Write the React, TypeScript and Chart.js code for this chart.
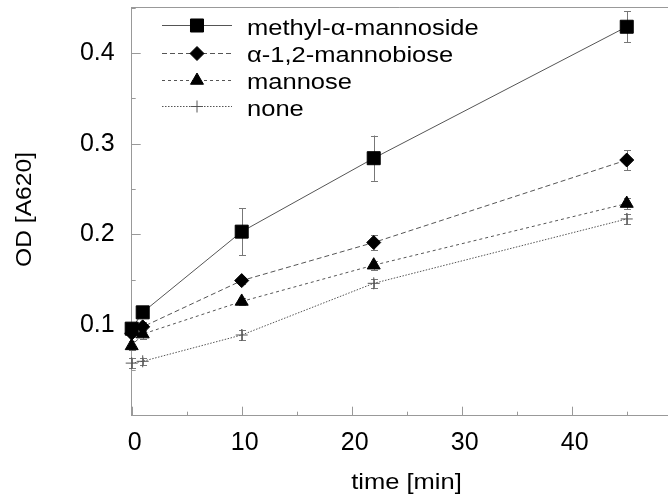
import React, { useEffect, useRef } from 'react';
import { Chart, registerables } from 'chart.js';
import { drawPoint } from 'chart.js/helpers';

Chart.register(...registerables);

const times = [0, 1, 10, 22, 45];
const seriesNames = ['methyl-α-mannoside', 'α-1,2-mannobiose', 'mannose', 'none'];
const methylMannoside = [0.096, 0.114, 0.203, 0.284, 0.429];
const methylMannosideErr = [0.006, 0.005, 0.026, 0.025, 0.017];
const mannobiose = [0.091, 0.098, 0.149, 0.191, 0.282];
const mannobioseErr = [0.004, 0.005, 0.004, 0.008, 0.011];
const mannose = [0.077, 0.09, 0.126, 0.166, 0.234];
const mannoseErr = [0.005, 0.005, 0.004, 0.005, 0.006];
const noneValues = [0.058, 0.06, 0.089, 0.146, 0.217];
const noneErr = [0.0055, 0.004, 0.006, 0.005, 0.006];
const xMajorTicks = [0, 10, 20, 30, 40];
const xMinorTicks = [5, 15, 25, 35, 45];
const yMajorTicks = [0.1, 0.2, 0.3, 0.4];
const yMinorTicks = [0.05, 0.15, 0.25, 0.35, 0.45];
const xTitle = 'time [min]';
const yTitle = 'OD [A620]';

const FONT = '"Liberation Sans", Arial, Helvetica, sans-serif';
const LINE = '#555';
const AXIS = '#999';

const seriesValues = [methylMannoside, mannobiose, mannose, noneValues];
const seriesErrors = [methylMannosideErr, mannobioseErr, mannoseErr, noneErr];
const seriesStyles = [
  { pointStyle: 'rect', radius: 9.2, dash: [] as number[], fill: '#000', border: '#000' },
  { pointStyle: 'rectRot', radius: 7, dash: [5, 3], fill: '#000', border: '#000' },
  { pointStyle: 'triangle', radius: 7.5, dash: [3, 3], fill: '#000', border: '#000' },
  { pointStyle: 'cross', radius: 6, dash: [1.5, 1.5], fill: '#555', border: '#555' },
];

function stretchedText(ctx: CanvasRenderingContext2D, text: string, x: number, y: number, sx: number, rot = 0) {
  ctx.save();
  ctx.translate(x, y);
  if (rot) ctx.rotate(rot);
  ctx.scale(sx, 1);
  ctx.fillText(text, 0, 0);
  ctx.restore();
}

const decorPlugin = {
  id: 'decor',
  beforeDatasetsDraw(chart: any) {
    const { ctx, chartArea } = chart;
    const xs = chart.scales.x;
    const ys = chart.scales.y;
    ctx.save();
    ctx.strokeStyle = AXIS;
    ctx.lineWidth = 1;
    // top frame line
    ctx.beginPath();
    ctx.moveTo(chartArea.left, Math.round(chartArea.top) - 0.5);
    ctx.lineTo(chartArea.right, Math.round(chartArea.top) - 0.5);
    ctx.stroke();
    // inward ticks
    const bottom = chartArea.bottom;
    const left = chartArea.left;
    ctx.beginPath();
    xMajorTicks.forEach((v) => {
      const px = Math.round(xs.getPixelForValue(v)) + 0.5;
      ctx.moveTo(px, bottom);
      ctx.lineTo(px, bottom - 9);
    });
    xMinorTicks.forEach((v) => {
      const px = Math.round(xs.getPixelForValue(v)) + 0.5;
      ctx.moveTo(px, bottom);
      ctx.lineTo(px, bottom - 4);
    });
    yMajorTicks.forEach((v) => {
      const py = Math.round(ys.getPixelForValue(v)) + 0.5;
      ctx.moveTo(left, py);
      ctx.lineTo(left + 9, py);
    });
    yMinorTicks.forEach((v) => {
      const py = Math.round(ys.getPixelForValue(v)) + 0.5;
      ctx.moveTo(left, py);
      ctx.lineTo(left + 4, py);
    });
    ctx.stroke();
    // error bars
    ctx.strokeStyle = '#777';
    ctx.beginPath();
    seriesValues.forEach((vals, si) => {
      vals.forEach((v, j) => {
        const e = seriesErrors[si][j];
        const px = Math.round(xs.getPixelForValue(times[j])) + 0.5;
        const yt = ys.getPixelForValue(v + e);
        const yb = ys.getPixelForValue(v - e);
        ctx.moveTo(px, yt);
        ctx.lineTo(px, yb);
        ctx.moveTo(px - 3.5, Math.round(yt) + 0.5);
        ctx.lineTo(px + 3.5, Math.round(yt) + 0.5);
        ctx.moveTo(px - 3.5, Math.round(yb) + 0.5);
        ctx.lineTo(px + 3.5, Math.round(yb) + 0.5);
      });
    });
    ctx.stroke();
    ctx.restore();
  },
  afterDraw(chart: any) {
    const { ctx } = chart;
    ctx.save();
    ctx.fillStyle = '#000';
    ctx.font = `22px ${FONT}`;
    ctx.textAlign = 'center';
    ctx.textBaseline = 'alphabetic';
    stretchedText(ctx, xTitle, 406.5, 489, 1.16);
    ctx.textBaseline = 'middle';
    stretchedText(ctx, yTitle, 25, 209.5, 1.12, -Math.PI / 2);
    // legend
    const rowsY = [25.3, 52.5, 79.5, 106];
    seriesNames.forEach((name, i) => {
      const st = seriesStyles[i];
      const y = rowsY[i];
      ctx.strokeStyle = LINE;
      ctx.lineWidth = 1;
      ctx.setLineDash(st.dash);
      ctx.beginPath();
      ctx.moveTo(162, Math.round(y) + 0.5);
      ctx.lineTo(232, Math.round(y) + 0.5);
      ctx.stroke();
      ctx.setLineDash([]);
      ctx.fillStyle = st.fill;
      ctx.strokeStyle = st.border;
      drawPoint(ctx, { pointStyle: st.pointStyle as any, rotation: 0, radius: st.radius, borderWidth: 1 }, 197, Math.round(y) + 0.5);
      ctx.fillStyle = '#000';
      ctx.textAlign = 'left';
      ctx.textBaseline = 'alphabetic';
      stretchedText(ctx, name, 247, y + 9.5, 1.16);
    });
    ctx.restore();
  },
};

export default function App() {
  const ref = useRef<HTMLCanvasElement | null>(null);
  useEffect(() => {
    if (!ref.current) return;
    const datasets = seriesValues.map((vals, i) => {
      const st = seriesStyles[i];
      return {
        label: seriesNames[i],
        data: times.map((t, j) => ({ x: t, y: vals[j] })),
        borderColor: LINE,
        borderWidth: 1,
        borderDash: st.dash,
        pointStyle: st.pointStyle,
        pointRadius: st.radius,
        pointBackgroundColor: st.fill,
        pointBorderColor: st.border,
        pointBorderWidth: 1,
        tension: 0,
        fill: false,
        clip: false as any,
      };
    });
    const chart = new Chart(ref.current, {
      type: 'line',
      data: { datasets: datasets as any },
      options: {
        animation: false,
        responsive: false,
        devicePixelRatio: 1,
        layout: { autoPadding: false, padding: { top: 7.7, right: 0, left: 0, bottom: 0 } },
        plugins: { legend: { display: false }, tooltip: { enabled: false } },
        scales: {
          x: {
            type: 'linear',
            min: 0,
            max: 48.75,
            grid: { display: false, drawTicks: false },
            border: { display: true, color: AXIS, width: 1 },
            ticks: {
              stepSize: 10,
              includeBounds: false,
              padding: 12,
              labelOffset: 3,
              color: '#000',
              font: { family: FONT, size: 25 },
              callback: (v: any) => String(v),
            },
            afterFit: (s: any) => {
              s.height = 79.3;
              s.paddingLeft = 0;
              s.paddingRight = 0;
              s.paddingTop = 0;
              s.paddingBottom = 0;
            },
          },
          y: {
            type: 'linear',
            min: 0,
            max: 0.45,
            grid: { display: false, drawTicks: false },
            border: { display: true, color: AXIS, width: 1 },
            ticks: {
              stepSize: 0.1,
              includeBounds: false,
              padding: 17,
              color: '#000',
              font: { family: FONT, size: 25 },
              callback: (v: any) => (Math.abs(v) < 1e-9 ? '' : Number(v).toFixed(1)),
            },
            afterFit: (s: any) => {
              s.width = 131.7;
              s.paddingLeft = 0;
              s.paddingRight = 0;
              s.paddingTop = 0;
              s.paddingBottom = 0;
            },
          },
        },
      },
      plugins: [decorPlugin],
    });
    return () => chart.destroy();
  }, []);
  return (
    <div style={{ position: 'fixed', left: 0, top: 0, width: 668, height: 495, background: '#fff' }}>
      <canvas ref={ref} width={668} height={495} style={{ display: 'block', width: 668, height: 495 }} />
    </div>
  );
}
